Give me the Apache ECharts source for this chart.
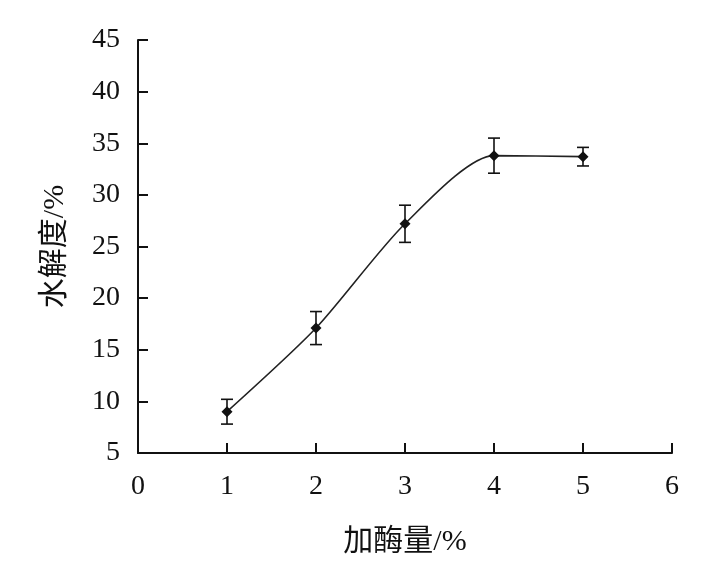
<!DOCTYPE html>
<html>
<head>
<meta charset="utf-8">
<script src="https://cdn.jsdelivr.net/npm/echarts@6/dist/echarts.min.js"></script>
<style>
  html, body { margin: 0; padding: 0; background: #fff; }
  #chart { width: 712px; height: 584px; }
</style>
</head>
<body>
<div id="chart"></div>
<script>
// 加酶量 (%) 与 水解度 (%)
var enzymeDose = [1, 2, 3, 4, 5];
var hydrolysis = [9.0, 17.1, 27.2, 33.8, 33.7];
var errors = [1.2, 1.6, 1.8, 1.7, 0.9];
var xTicks = [0, 1, 2, 3, 4, 5, 6];

var font = '"Liberation Serif", "Times New Roman", serif';
var cjkFont = '"Liberation Serif", "Noto Sans CJK SC", serif';

var lineData = enzymeDose.map(function (x, i) { return [x, hydrolysis[i]]; });
var errData = enzymeDose.map(function (x, i) {
  return [x, hydrolysis[i] - errors[i], hydrolysis[i] + errors[i]];
});

var chart = echarts.init(document.getElementById('chart'));
chart.setOption({
  animation: false,
  grid: { left: 138, top: 40, right: 40, bottom: 131 },
  xAxis: {
    type: 'value',
    min: xTicks[0],
    max: xTicks[xTicks.length - 1],
    interval: 1,
    name: '加酶量/%',
    nameLocation: 'middle',
    nameGap: 74,
    nameTextStyle: { fontFamily: cjkFont, fontSize: 30, color: '#111' },
    axisLine: { lineStyle: { color: '#111', width: 2 } },
    axisTick: { inside: true, length: 10, lineStyle: { color: '#111', width: 2 } },
    axisLabel: { fontFamily: font, fontSize: 28, color: '#111', margin: 20 },
    splitLine: { show: false }
  },
  yAxis: {
    type: 'value',
    min: 5,
    max: 45,
    interval: 5,
    name: '水解度/%',
    nameLocation: 'middle',
    nameGap: 68,
    nameRotate: 90,
    nameTextStyle: { fontFamily: cjkFont, fontSize: 30, color: '#111' },
    axisLine: { show: true, lineStyle: { color: '#111', width: 2 } },
    axisTick: { show: true, inside: true, length: 10, lineStyle: { color: '#111', width: 2 } },
    axisLabel: { fontFamily: font, fontSize: 28, color: '#111', margin: 18 },
    splitLine: { show: false }
  },
  series: [
    {
      type: 'line',
      data: lineData,
      smooth: 0.25,
      symbol: 'diamond',
      symbolSize: 11,
      itemStyle: { color: '#111' },
      lineStyle: { color: '#222', width: 1.6 }
    },
    {
      type: 'custom',
      data: errData,
      renderItem: function (params, api) {
        var x = api.value(0);
        var lo = api.coord([x, api.value(1)]);
        var hi = api.coord([x, api.value(2)]);
        var w = 6;
        var st = { stroke: '#111', lineWidth: 1.6 };
        return {
          type: 'group',
          children: [
            { type: 'line', shape: { x1: lo[0], y1: lo[1], x2: hi[0], y2: hi[1] }, style: st },
            { type: 'line', shape: { x1: lo[0] - w, y1: lo[1], x2: lo[0] + w, y2: lo[1] }, style: st },
            { type: 'line', shape: { x1: hi[0] - w, y1: hi[1], x2: hi[0] + w, y2: hi[1] }, style: st }
          ]
        };
      },
      z: 3
    }
  ]
});
</script>
</body>
</html>
